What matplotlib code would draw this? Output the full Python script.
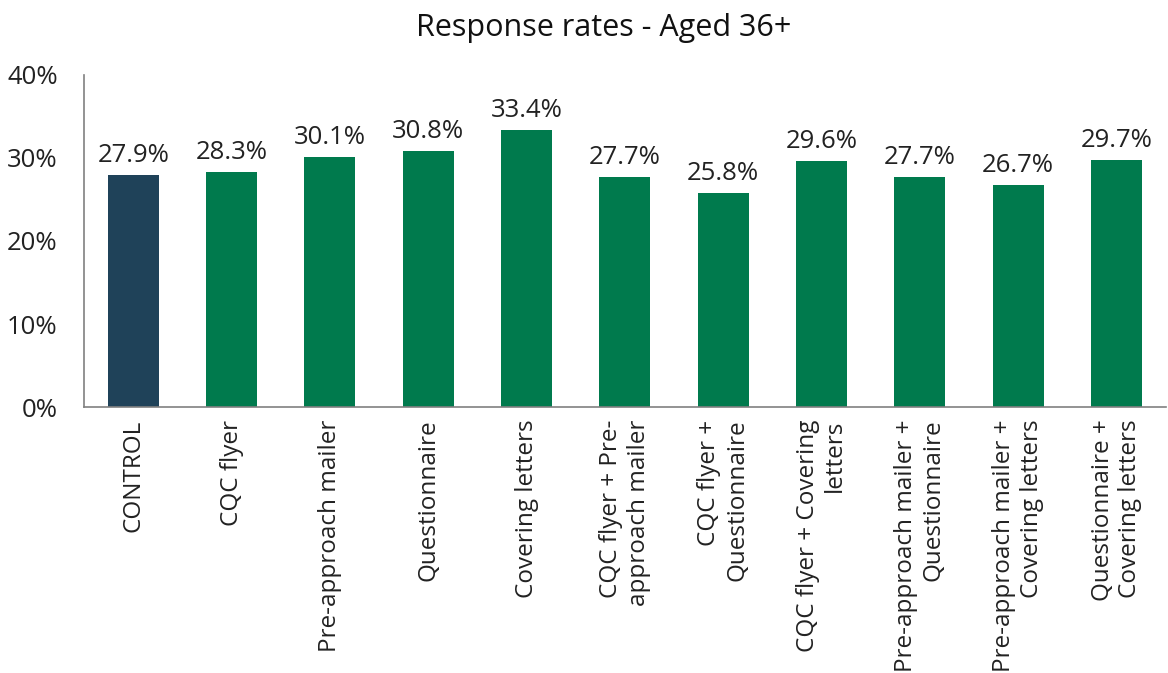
import matplotlib
matplotlib.use("Agg")
import matplotlib.pyplot as plt
from matplotlib.ticker import FuncFormatter

plt.rcParams['font.family'] = ['Open Sans', 'DejaVu Sans']

# Data
categories = [
    "CONTROL",
    "CQC flyer",
    "Pre-approach mailer",
    "Questionnaire",
    "Covering letters",
    "CQC flyer + Pre-\napproach mailer",
    "CQC flyer +\nQuestionnaire",
    "CQC flyer + Covering\nletters",
    "Pre-approach mailer +\nQuestionnaire",
    "Pre-approach mailer +\nCovering letters",
    "Questionnaire +\nCovering letters",
]
rates = [27.9, 28.3, 30.1, 30.8, 33.4, 27.7, 25.8, 29.6, 27.7, 26.7, 29.7]

control_color = '#1F4259'
green = '#007A4D'
colors = [control_color] + [green] * (len(rates) - 1)

fig = plt.figure(figsize=(11.68, 6.73), dpi=100)
ax = fig.add_axes([0.072, 0.395, 0.926, 0.494])

x = range(len(categories))
bars = ax.bar(x, rates, width=0.52, color=colors)

for b, v in zip(bars, rates):
    ax.annotate(f"{v:.1f}%", (b.get_x() + b.get_width() / 2, v),
                xytext=(0, 5), textcoords='offset points',
                ha='center', va='bottom', fontsize=18.5, color='#222222')

ax.set_xlim(-0.5, len(categories) - 0.5)
ax.set_ylim(0, 40)
ax.set_yticks([0, 10, 20, 30, 40])
ax.yaxis.set_major_formatter(FuncFormatter(lambda v, p: f"{v:.0f}%"))
ax.set_xticks(list(x))
ax.set_xticklabels(categories, rotation=90, ha='center', va='top',
                   multialignment='right', fontsize=17.5)
ax.tick_params(axis='both', length=0, colors='#222222')
ax.tick_params(axis='y', labelsize=18.5, pad=19)
ax.tick_params(axis='x', pad=9)

for s in ['top', 'right']:
    ax.spines[s].set_visible(False)
for s in ['left', 'bottom']:
    ax.spines[s].set_color('#808080')
    ax.spines[s].set_linewidth(1.2)

fig.text(0.517, 0.958, "Response rates - Aged 36+", ha='center', va='center',
         fontsize=22, color='#111111')

fig.savefig("out.png", dpi=100)
